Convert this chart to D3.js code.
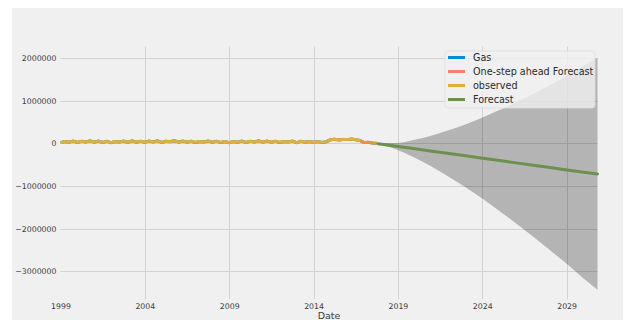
<!DOCTYPE html>
<html>
<head>
<meta charset="utf-8">
<script src="https://cdn.jsdelivr.net/npm/d3@7"></script>
<style>
  html, body { margin: 0; padding: 0; background: #ffffff; }
  svg { display: block; font-family: "DejaVu Sans", sans-serif; }
</style>
</head>
<body>
<svg id="chart" width="625" height="320"></svg>
<script>
// Observed gas series, quarterly values (thousands), 1999 Q1 .. 2017 Q4
const observed = [
  20, 45, 30, 55,   25, 50, 35, 60,   30, 55, 25, 50,   20, 45, 35, 55,
  25, 60, 30, 50,   30, 55, 35, 60,   25, 50, 40, 65,   30, 55, 30, 50,
  25, 45, 35, 55,   30, 50, 25, 45,   20, 45, 30, 55,   25, 50, 35, 60,
  30, 55, 30, 50,   25, 45, 35, 55,   20, 50, 30, 45,   30, 45, 25, 40,
  85, 100, 80, 95,  90, 105, 85, 70,  20, 25, 10, 5
];
const observedStart = [1999, 0];

// One-step ahead forecast (thousands), quarterly from 2016 Q4
const oneStep = [60, 15, 20, 5, 0];
const oneStepStart = [2016, 9];

// Dynamic forecast with confidence bounds (thousands), yearly steps from Nov 2017
const forecastDates = ["2017-11", "2018-12", "2019-12", "2020-12", "2021-12", "2022-12",
  "2023-12", "2024-12", "2025-12", "2026-12", "2027-12", "2028-12", "2029-12", "2030-11"];
const forecastMean = [-5, -65, -120, -175, -230, -285, -340, -395, -450, -505, -560, -615, -670, -715];
const forecastUpper = [10, 10, 80, 175, 300, 435, 590, 765, 950, 1145, 1350, 1565, 1800, 2005];
const forecastLower = [-20, -140, -320, -525, -760, -1005, -1270, -1555, -1850, -2155, -2470, -2795, -3140, -3435];

const yTicks = [2000000, 1000000, 0, -1000000, -2000000, -3000000];
const xTickYears = [1999, 2004, 2009, 2014, 2019, 2024, 2029];
const legendLabels = ["Gas", "One-step ahead Forecast", "observed", "Forecast"];
const legendColors = ["#008fd5", "#fc4f30", "#e5ae38", "#6d904f"];
const legendOpacity = [1, 0.7, 1, 1];

const svg = d3.select("#chart");
const W = 625, H = 320;

// figure background
svg.append("rect").attr("x", 12).attr("y", 8).attr("width", 611).attr("height", H - 8)
  .attr("fill", "#f0f0f0");

const plot = { left: 60.5, right: 597.5, top: 46.7, bottom: 299 };

const x = d3.scaleTime()
  .domain([new Date(1999, 0, 1), new Date(2030, 10, 1)])
  .range([plot.left, plot.right]);
const y = d3.scaleLinear()
  .domain([-3650000, 2270000])
  .range([plot.bottom, plot.top]);

const monthSeries = (start, stepMonths, vals) =>
  vals.map((v, i) => ({ date: new Date(start[0], start[1] + i * stepMonths, 1), value: v * 1000 }));
const parseYM = d3.timeParse("%Y-%m");

const obsData = monthSeries(observedStart, 3, observed);
const oneStepData = monthSeries(oneStepStart, 3, oneStep);
const fcData = forecastDates.map((d, i) => ({
  date: parseYM(d),
  mean: forecastMean[i] * 1000,
  lo: forecastLower[i] * 1000,
  hi: forecastUpper[i] * 1000
}));

// grid
const grid = svg.append("g");
grid.selectAll("line.h").data(yTicks).join("line")
  .attr("x1", plot.left).attr("x2", plot.right)
  .attr("y1", d => Math.round(y(d)) + 0.5).attr("y2", d => Math.round(y(d)) + 0.5)
  .attr("stroke", "#d2d2d2").attr("stroke-width", 1);
grid.selectAll("line.v").data(xTickYears.slice(1)).join("line")
  .attr("x1", d => Math.round(x(new Date(d, 0, 1))) + 0.5)
  .attr("x2", d => Math.round(x(new Date(d, 0, 1))) + 0.5)
  .attr("y1", plot.top).attr("y2", plot.bottom)
  .attr("stroke", "#d2d2d2").attr("stroke-width", 1);

// axes (tick labels only, no spines)
const fmt = d => (d < 0 ? "\u2212" : "") + Math.abs(d).toString();
const yAxis = svg.append("g")
  .attr("transform", `translate(${plot.left},0)`)
  .call(d3.axisLeft(y).tickValues(yTicks).tickSize(0).tickPadding(4).tickFormat(fmt));
const xAxis = svg.append("g")
  .attr("transform", `translate(0,${plot.bottom})`)
  .call(d3.axisBottom(x).tickValues(xTickYears.map(v => new Date(v, 0, 1)))
    .tickSize(0).tickPadding(4).tickFormat(d3.timeFormat("%Y")));
[yAxis, xAxis].forEach(a => {
  a.select(".domain").remove();
  a.selectAll("text").attr("fill", "#3c3c3c").attr("font-size", "7.8px")
    .attr("font-family", "DejaVu Sans, sans-serif");
});

svg.append("text").attr("x", (plot.left + plot.right) / 2).attr("y", 319)
  .attr("text-anchor", "middle").attr("font-size", "9.5px").attr("fill", "#3c3c3c")
  .text("Date");

// confidence band
const band = d3.area()
  .x(d => x(d.date)).y0(d => y(d.lo)).y1(d => y(d.hi))
  .curve(d3.curveMonotoneX);
svg.append("path").datum(fcData).attr("d", band)
  .attr("fill", "#000").attr("fill-opacity", 0.25);

const line = d3.line().x(d => x(d.date)).y(d => y(d.value)).curve(d3.curveLinear);

// Gas (underneath observed)
svg.append("path").datum(obsData).attr("d", line)
  .attr("fill", "none").attr("stroke", legendColors[0]).attr("stroke-width", 3);
// observed
svg.append("path").datum(obsData).attr("d", line)
  .attr("fill", "none").attr("stroke", legendColors[2]).attr("stroke-width", 3)
  .attr("stroke-linejoin", "round");
// one-step ahead forecast
svg.append("path").datum(oneStepData).attr("d", line)
  .attr("fill", "none").attr("stroke", legendColors[1]).attr("stroke-width", 2.5)
  .attr("stroke-opacity", 0.3);
// forecast mean
svg.append("path").datum(fcData)
  .attr("d", d3.line().x(d => x(d.date)).y(d => y(d.mean)))
  .attr("fill", "none").attr("stroke", legendColors[3]).attr("stroke-width", 3)
  .attr("stroke-linecap", "round");

// legend
const lg = svg.append("g").attr("transform", "translate(445,51)");
lg.append("rect").attr("width", 150).attr("height", 57).attr("rx", 3)
  .attr("fill", "#f0f0f0").attr("fill-opacity", 0.8)
  .attr("stroke", "#dcdcdc").attr("stroke-opacity", 0.8);
legendLabels.forEach((lab, i) => {
  const cy = 6.5 + i * 14;
  lg.append("line").attr("x1", 3).attr("x2", 20).attr("y1", cy).attr("y2", cy)
    .attr("stroke", legendColors[i]).attr("stroke-opacity", legendOpacity[i])
    .attr("stroke-width", 3);
  lg.append("text").attr("x", 28).attr("y", cy + 3.4)
    .attr("font-size", "9.6px").attr("fill", "#2a2a2a").text(lab);
});
</script>
</body>
</html>
